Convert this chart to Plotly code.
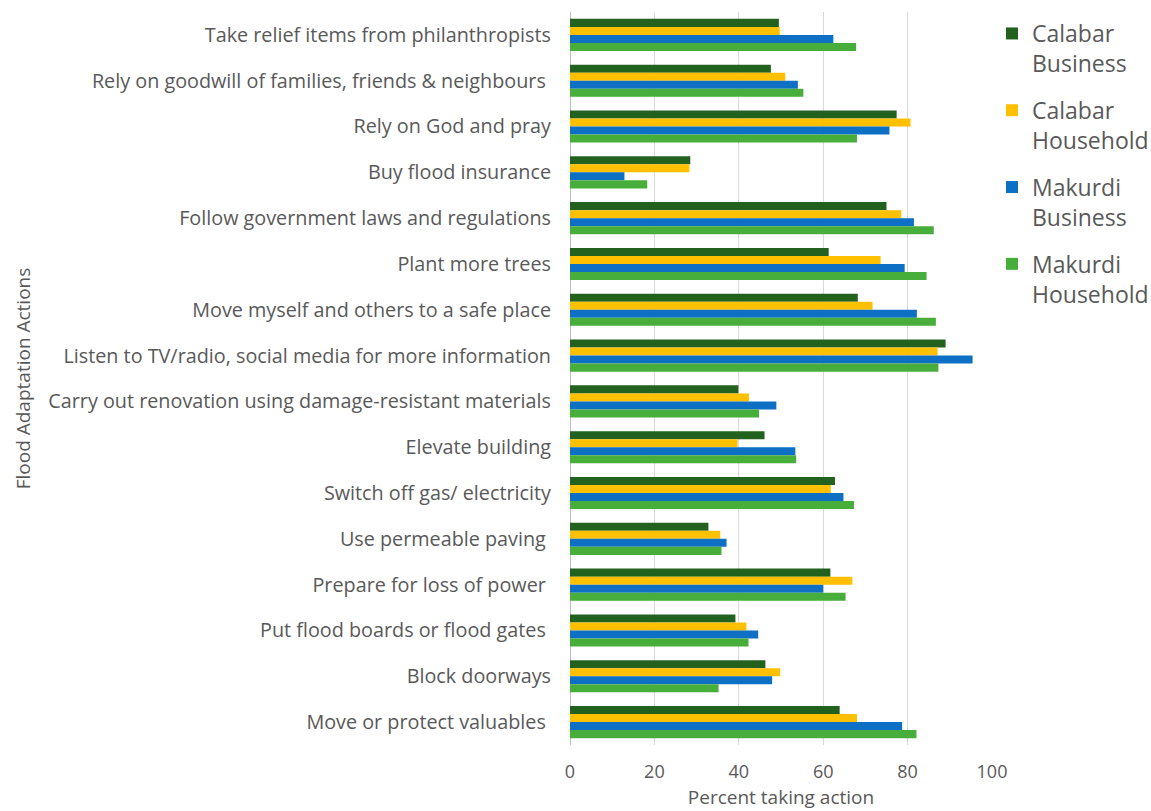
import plotly.graph_objects as go

categories = [
    "Take relief items from philanthropists",
    "Rely on goodwill of families, friends & neighbours ",
    "Rely on God and pray",
    "Buy flood insurance",
    "Follow government laws and regulations",
    "Plant more trees",
    "Move myself and others to a safe place",
    "Listen to TV/radio, social media for more information",
    "Carry out renovation using damage-resistant materials",
    "Elevate building",
    "Switch off gas/ electricity",
    "Use permeable paving ",
    "Prepare for loss of power ",
    "Put flood boards or flood gates ",
    "Block doorways",
    "Move or protect valuables ",
]

calabar_business = [49.5, 47.6, 77.4, 28.5, 75.0, 61.3, 68.2, 89.0, 39.9, 46.1, 62.8, 32.8, 61.7, 39.2, 46.3, 63.9]
calabar_household = [49.7, 51.0, 80.7, 28.3, 78.5, 73.6, 71.7, 87.1, 42.4, 39.7, 61.8, 35.6, 66.9, 41.8, 49.8, 68.0]
makurdi_business = [62.4, 54.0, 75.7, 12.9, 81.5, 79.3, 82.2, 95.4, 48.9, 53.4, 64.8, 37.1, 60.0, 44.6, 47.9, 78.7]
makurdi_household = [67.8, 55.3, 68.0, 18.3, 86.2, 84.5, 86.7, 87.3, 44.8, 53.6, 67.3, 35.9, 65.3, 42.3, 35.2, 82.1]

series_names = ["Calabar<br>Business", "Calabar<br>Household", "Makurdi<br>Business", "Makurdi<br>Household"]
series_values = [calabar_business, calabar_household, makurdi_business, makurdi_household]
colors = ["#22621E", "#FFC000", "#0E70C4", "#47AD3B"]

x_ticks = [0, 20, 40, 60, 80, 100]

fig = go.Figure()
for i, (name, vals, col) in enumerate(zip(series_names, series_values, colors)):
    fig.add_trace(go.Bar(
        y=categories, x=vals, name=name, orientation="h",
        marker=dict(color=col, line=dict(width=0)),
        legendgroup=f"g{i}",
    ))

txt = "#595959"
fig.update_layout(
    width=1151, height=811,
    margin=dict(l=570, r=159, t=12, b=66, autoexpand=False),
    barmode="group", bargap=0.3, bargroupgap=0,
    plot_bgcolor="white", paper_bgcolor="white",
    font=dict(family="Open Sans", color=txt, size=19),
    legend=dict(
        x=1.0, y=1.0, xanchor="left", yanchor="top",
        traceorder="grouped", tracegroupgap=14, valign="top",
        font=dict(size=23, color=txt),
        itemwidth=30,
    ),
    xaxis=dict(
        range=[0, 100], tickvals=x_ticks, ticktext=[str(t) for t in x_ticks],
        showgrid=True, gridcolor="#D9D9D9", gridwidth=1,
        zeroline=True, zerolinecolor="#BFBFBF", zerolinewidth=1,
        tickfont=dict(size=18, color=txt),
        ticklabelstandoff=14,
        title=dict(text="Percent taking action", font=dict(size=19, color=txt), standoff=8),
        fixedrange=True,
    ),
    yaxis=dict(
        autorange="reversed", showgrid=False,
        tickfont=dict(size=19.8, color=txt),
        ticklabelstandoff=18,
        title=dict(text="Flood Adaptation Actions", font=dict(size=19, color=txt), standoff=12),
    ),
)

fig.write_html("out.html")
